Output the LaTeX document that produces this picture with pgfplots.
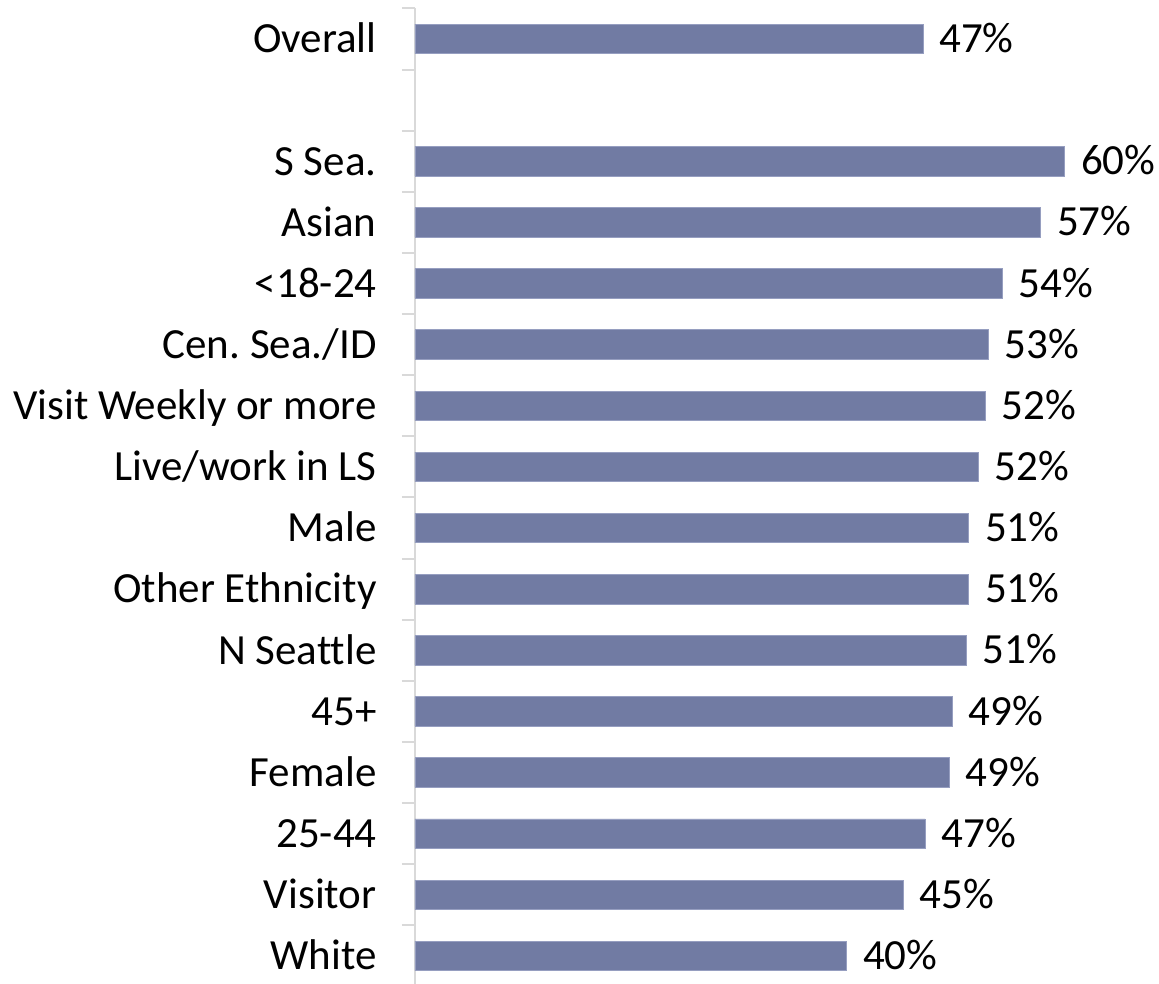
\documentclass[border=0pt]{standalone}
\usepackage{fontspec}
\setmainfont{Carlito}[Ligatures=NoCommon]
\usepackage{pgfplots}
\usepackage{pgfplotstable}
\pgfplotsset{compat=1.18}
\definecolor{barcol}{RGB}{113,123,163}
\definecolor{bordcol}{RGB}{150,158,192}
\definecolor{axcol}{RGB}{217,217,217}
\pgfplotstableread{
y val lab
0 46.6 47
2 59.6 60
3 57.4 57
4 53.9 54
5 52.6 53
6 52.3 52
7 51.7 52
8 50.8 51
9 50.8 51
10 50.6 51
11 49.3 49
12 49.0 49
13 46.8 47
14 44.8 45
15 39.6 40
}\data
\begin{document}
\frenchspacing
\fontsize{21.5}{25}\selectfont
\begin{tikzpicture}
\begin{axis}[
  at={(0,0)}, anchor=south west,
  scale only axis,
  width=327pt, height=489.05pt,
  xmin=0, xmax=60,
  ymin=-0.5, ymax=15.5,
  y dir=reverse,
  hide x axis,
  axis y line*=left,
  y axis line style={draw=axcol, line width=1pt},
  clip=false,
  ytick={0,2,3,4,5,6,7,8,9,10,11,12,13,14,15},
  yticklabels={Overall,S Sea.,Asian,{<18-24},Cen. Sea./ID,Visit Weekly or more,Live/work in LS,Male,Other Ethnicity,N Seattle,45+,Female,25-44,Visitor,White},
  major tick length=0pt,
  tick align=outside,
  extra y ticks={-0.5,0.5,1.5,2.5,3.5,4.5,5.5,6.5,7.5,8.5,9.5,10.5,11.5,12.5,13.5,14.5,15.5},
  extra y tick labels={},
  extra y tick style={major tick length=6.5pt, tick style={draw=axcol, line width=1pt}},
  yticklabel style={font=\fontsize{21.5}{25}\selectfont\frenchspacing, anchor=base east, inner sep=0pt, xshift=-19pt, yshift=-6.9pt},
  xbar, bar width=14.75pt, bar shift=0pt,
  point meta=explicit symbolic,
  nodes near coords={\pgfplotspointmeta\%},
  every node near coord/.append style={font=\fontsize{21.5}{25}\selectfont, anchor=base west, inner sep=0pt, xshift=8pt, yshift=-6.8pt, text=black},
]
\addplot[fill=barcol, draw=bordcol, line width=0.4pt] table[x=val, y=y, meta=lab] {\data};
\end{axis}
\pgfresetboundingbox
\useasboundingbox (-207.5pt,1.75pt) rectangle (372pt,493.25pt);
\end{tikzpicture}
\end{document}
